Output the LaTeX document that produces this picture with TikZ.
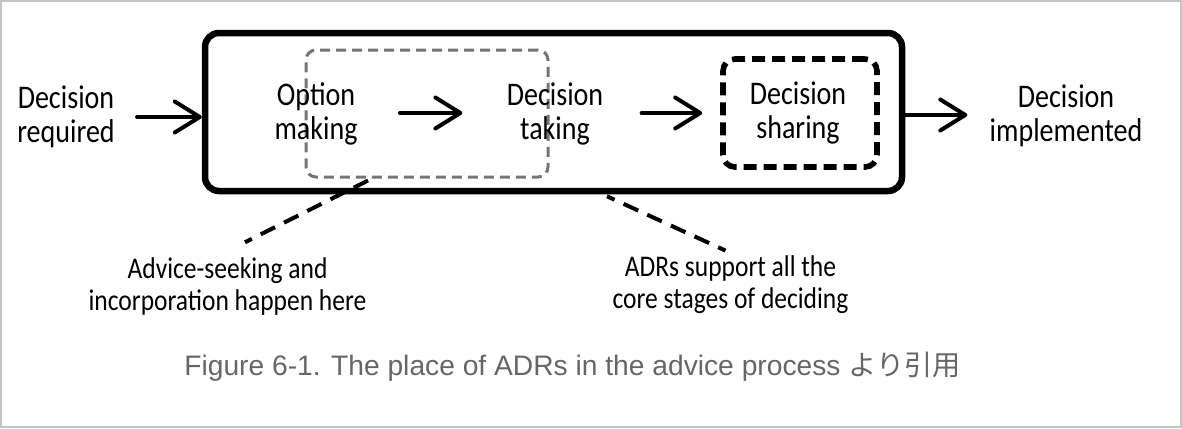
\documentclass[tikz,border=0pt]{standalone}
\usepackage{fontspec}
\setmainfont{Carlito}
\newfontfamily\hand[FakeStretch=0.85]{Carlito}
\newfontfamily\capfont{Liberation Sans}
\newfontfamily\cjk{Noto Sans CJK JP}
\usetikzlibrary{arrows.meta}
\definecolor{framegray}{HTML}{C4C4C4}
\definecolor{dashgray}{HTML}{757575}
\definecolor{captext}{HTML}{666666}
\tikzset{
  mainbox/.style={draw, line width=3.25pt, rounded corners=7pt, inner sep=0pt},
  graybox/.style={draw=dashgray, line width=1.5pt, dash pattern=on 5pt off 3pt, rounded corners=5pt, inner sep=0pt},
  sharebox/.style={draw, line width=2.8pt, dash pattern=on 6.5pt off 3.5pt, rounded corners=6pt, inner sep=0pt},
  lbl/.style={align=center, inner sep=0pt, font=\hand\fontsize{16.5}{17}\selectfont},
  note/.style={align=center, inner sep=0pt, font=\hand\fontsize{15}{16}\selectfont},
  arr/.style={line width=2pt, line cap=round, -{Straight Barb[length=12.5pt,width=15.5pt,round]}},
  leader/.style={line width=2pt, dash pattern=on 8pt off 5pt},
}
\begin{document}
\begin{tikzpicture}[x=0.5pt,y=-0.5pt]
\useasboundingbox (0,0) rectangle (1182,428);
\draw[framegray, line width=1.25pt] (1.2,1.2) rectangle (1180.8,426.8);

\node[mainbox, minimum width=348.5pt, minimum height=79pt] (main) at (553.5,112) {};
\node[graybox, minimum width=121pt, minimum height=63.5pt] (gray) at (427,113.5) {};
\node[sharebox, minimum width=77pt, minimum height=54pt] (share) at (800,113) {};

\node[lbl] (req)  at (66,117)   {Decision\\required};
\node[lbl] (opt)  at (316,114)  {Option\\making};
\node[lbl] (take) at (555,114)  {Decision\\taking};
\node[lbl] (shr)  at (798,113)  {Decision\\sharing};
\node[lbl] (impl) at (1066,116) {Decision\\implemented};

\draw[arr] ([xshift=11pt]req.east |- 0,117) -- (main.west |- 0,117);
\draw[arr] ([xshift=21pt]opt.east |- 0,113) -- ([xshift=-22pt]take.west |- 0,113);
\draw[arr] ([xshift=19pt]take.east |- 0,113) -- ([xshift=-9pt]share.west |- 0,113);
\draw[arr] (main.east |- 0,115) -- ([xshift=-11pt]impl.west |- 0,115);

\node[note] (adv) at (227.5,286.5) {Advice-seeking and\\incorporation happen here};
\node[note] (adr) at (730.5,285) {ADRs support all the\\core stages of deciding};

\draw[leader] ([xshift=-29.5pt,yshift=-1pt]gray.south) -- ([xshift=8.75pt,yshift=7.5pt]adv.north);
\draw[leader, dash phase=3.85pt] ([xshift=26.75pt,yshift=-1pt]main.south) -- ([xshift=-2.5pt,yshift=2.5pt]adr.north);

\node[anchor=base, text=captext, inner sep=0pt, font=\capfont\fontsize{14.1}{16}\selectfont] (cap) at (572.5,375)
  {Figure 6-1. The place of ADRs in the advice process {\cjk より引用}};
\end{tikzpicture}
\end{document}
